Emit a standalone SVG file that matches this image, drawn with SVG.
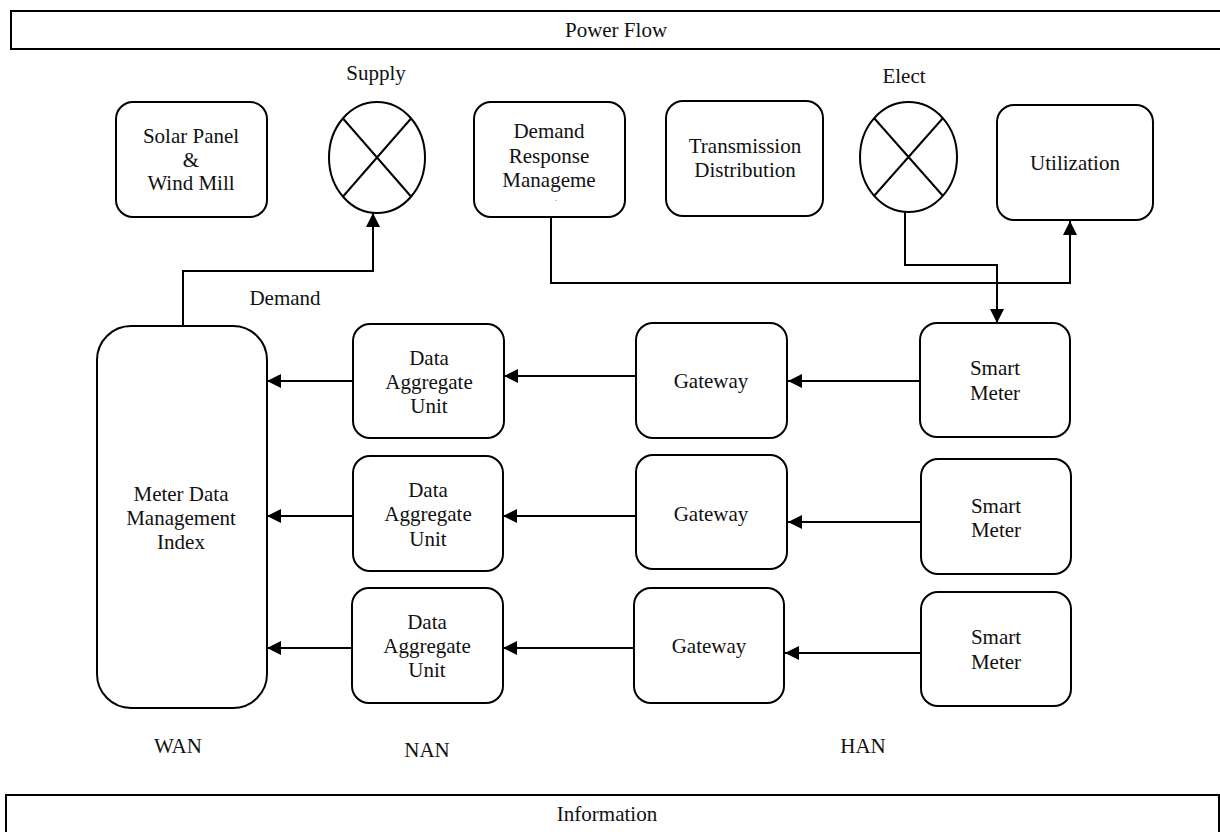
<svg xmlns="http://www.w3.org/2000/svg" width="1220" height="832" viewBox="0 0 1220 832">
<defs>
<style>
.box{fill:#fff;stroke:#000;stroke-width:2}
.ban{fill:#fff;stroke:#000;stroke-width:2}
.ln{fill:none;stroke:#000;stroke-width:2}
.t{font-family:"Liberation Serif","Times New Roman",serif;font-size:21px;fill:#111;text-anchor:middle}
</style>
<marker id="ah" markerUnits="userSpaceOnUse" markerWidth="14" markerHeight="14" refX="14" refY="7" orient="auto">
<path d="M0,0 L14,7 L0,14 z" fill="#000"/>
</marker>
</defs>
<rect width="1220" height="832" fill="#fff"/>

<g id="power-flow">
<rect class="ban" x="11" y="11" width="1215" height="38"/>
<text class="t" x="616" y="37">Power Flow</text>
</g>
<g id="information">
<rect class="ban" x="6" y="795" width="1213" height="45"/>
<text class="t" x="607" y="821">Information</text>
</g>

<g id="solar">
<rect class="box" x="116" y="102" width="151" height="115" rx="17"/>
<text class="t" x="191" y="143">Solar Panel</text>
<text class="t" x="191" y="167">&amp;</text>
<text class="t" x="191" y="190">Wind Mill</text>
</g>
<g id="supply">
<ellipse class="box" cx="377" cy="157.5" rx="48" ry="55.5"/>
<path class="ln" d="M343,118.5 L411,196.5 M411,118.5 L343,196.5"/>
<text class="t" x="376" y="80">Supply</text>
</g>
<g id="demand-response">
<rect class="box" x="474" y="102" width="151" height="115" rx="17"/>
<text class="t" x="549" y="138">Demand</text>
<text class="t" x="549" y="163">Response</text>
<text class="t" x="549" y="187">Manageme</text>
<text class="t" x="556" y="201" style="font-size:6px">.</text>
</g>
<g id="transmission">
<rect class="box" x="666" y="101" width="157" height="115" rx="17"/>
<text class="t" x="745" y="153">Transmission</text>
<text class="t" x="745" y="177">Distribution</text>
</g>
<g id="elect">
<ellipse class="box" cx="908.5" cy="157" rx="48.5" ry="55"/>
<path class="ln" d="M874,118 L943,196 M943,118 L874,196"/>
<text class="t" x="904" y="83">Elect</text>
</g>
<g id="utilization">
<rect class="box" x="997" y="105" width="156" height="115" rx="17"/>
<text class="t" x="1075" y="170">Utilization</text>
</g>

<g id="mdm">
<rect class="box" x="97" y="326" width="170" height="382" rx="34"/>
<text class="t" x="181" y="501">Meter Data</text>
<text class="t" x="181" y="525">Management</text>
<text class="t" x="181" y="549">Index</text>
</g>

<g id="dau1">
<rect class="box" x="353" y="324" width="151" height="114" rx="17"/>
<text class="t" x="429" y="365">Data</text>
<text class="t" x="429" y="389">Aggregate</text>
<text class="t" x="429" y="413">Unit</text>
</g>
<g id="dau2">
<rect class="box" x="353" y="456" width="150" height="115" rx="17"/>
<text class="t" x="428" y="497">Data</text>
<text class="t" x="428" y="521">Aggregate</text>
<text class="t" x="428" y="546">Unit</text>
</g>
<g id="dau3">
<rect class="box" x="352" y="588" width="151" height="115" rx="17"/>
<text class="t" x="427" y="629">Data</text>
<text class="t" x="427" y="653">Aggregate</text>
<text class="t" x="427" y="677">Unit</text>
</g>

<g id="gw1">
<rect class="box" x="636" y="323" width="151" height="115" rx="17"/>
<text class="t" x="711" y="388">Gateway</text>
</g>
<g id="gw2">
<rect class="box" x="636" y="455" width="151" height="114" rx="17"/>
<text class="t" x="711" y="521">Gateway</text>
</g>
<g id="gw3">
<rect class="box" x="634" y="588" width="150" height="115" rx="17"/>
<text class="t" x="709" y="653">Gateway</text>
</g>

<g id="sm1">
<rect class="box" x="920" y="323" width="150" height="114" rx="17"/>
<text class="t" x="995" y="375">Smart</text>
<text class="t" x="995" y="400">Meter</text>
</g>
<g id="sm2">
<rect class="box" x="921" y="459" width="150" height="115" rx="17"/>
<text class="t" x="996" y="513">Smart</text>
<text class="t" x="996" y="537">Meter</text>
</g>
<g id="sm3">
<rect class="box" x="921" y="592" width="150" height="114" rx="17"/>
<text class="t" x="996" y="644">Smart</text>
<text class="t" x="996" y="669">Meter</text>
</g>

<g id="labels">
<text class="t" x="285" y="305">Demand</text>
<text class="t" x="178" y="753">WAN</text>
<text class="t" x="427" y="757">NAN</text>
<text class="t" x="863" y="753">HAN</text>
</g>

<g id="connectors">
<path class="ln" d="M183,326 L183,271 L373,271 L373,213" marker-end="url(#ah)"/>
<path class="ln" d="M551,217 L551,283 L1070,283 L1070,221" marker-end="url(#ah)"/>
<path class="ln" d="M905,212 L905,265 L997,265 L997,323" marker-end="url(#ah)"/>
<path class="ln" d="M353,381 L267,381" marker-end="url(#ah)"/>
<path class="ln" d="M353,516 L267,516" marker-end="url(#ah)"/>
<path class="ln" d="M352,648 L267,648" marker-end="url(#ah)"/>
<path class="ln" d="M636,376 L504,376" marker-end="url(#ah)"/>
<path class="ln" d="M636,516 L503,516" marker-end="url(#ah)"/>
<path class="ln" d="M634,648 L503,648" marker-end="url(#ah)"/>
<path class="ln" d="M920,381 L788,381" marker-end="url(#ah)"/>
<path class="ln" d="M921,522 L788,522" marker-end="url(#ah)"/>
<path class="ln" d="M921,653 L785,653" marker-end="url(#ah)"/>
</g>
</svg>
